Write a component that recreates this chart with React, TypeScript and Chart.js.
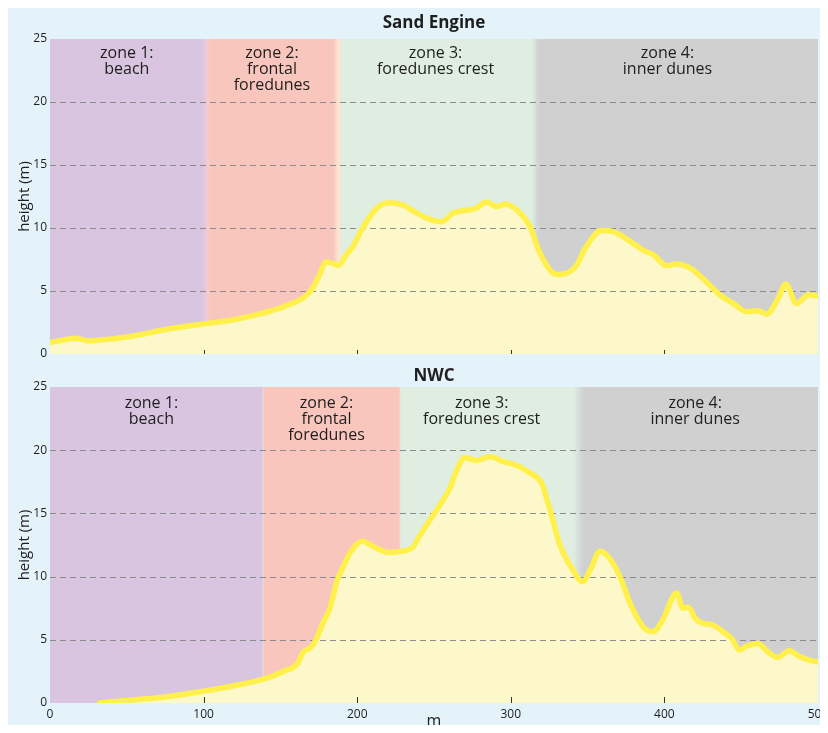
import React, { useEffect, useRef } from "react";
import { Chart, registerables } from "chart.js";

Chart.register(...registerables);

const FONT = "'Open Sans', 'DejaVu Sans', sans-serif";
const INK = "#1e1e1e";

// Cross-shore distance (m) and surface height (m) of the Sand Engine transect
const sandEngineX = [
  0, 17, 24, 54, 76, 102, 119, 137, 152, 169, 174, 180, 188, 193, 197, 204, 213, 221, 229, 238,
  247, 255, 262.5, 271, 278, 284, 291, 296, 305, 312.5, 319, 330, 342, 349, 359, 367, 378, 386, 393,
  401.5, 408, 417, 425, 436, 445, 453.6, 461, 466.6, 474, 479, 486, 494, 500,
];
const sandEngineHeight = [
  0.9, 1.25, 1.06, 1.43, 1.96, 2.43, 2.7, 3.2, 3.75, 4.9, 5.9, 7.3, 7.05, 7.9, 8.5, 10.1, 11.6, 12.0,
  11.85, 11.25, 10.7, 10.5, 11.2, 11.4, 11.6, 12.06, 11.7, 11.9, 11.3, 10.1, 8.0, 6.3, 6.9, 8.5, 9.8,
  9.7, 8.9, 8.25, 7.86, 7.0, 7.14, 6.8, 6.0, 4.7, 4.0, 3.36, 3.44, 3.17, 4.4, 5.55, 4.0, 4.7, 4.6,
];

// Cross-shore distance (m) and surface height (m) of the NWC transect
const nwcX = [
  32.5, 54, 76, 97.7, 119, 139, 152, 161, 165, 169, 172.5, 178, 182, 187, 191, 196, 203, 211.6, 221,
  228, 236, 241, 254, 260, 265, 270, 278, 286.5, 295, 302.7, 312.5, 320, 325, 332, 340, 346.8, 352,
  358, 364.6, 371, 378.7, 387, 393, 399, 408, 412, 415.5, 420, 425, 430.8, 438, 443.8, 448.8, 453.6,
  461, 464.4, 468.8, 474, 481.3, 488, 498, 500,
];
const nwcHeight = [
  0, 0.24, 0.5, 0.9, 1.35, 1.88, 2.5, 3.1, 4.06, 4.3, 4.85, 6.4, 7.4, 9.7, 10.8, 12.0, 12.8, 12.3,
  11.9, 12.0, 12.3, 13.3, 15.7, 16.9, 18.5, 19.4, 19.2, 19.5, 19.1, 18.85, 18.2, 17.4, 15.5, 12.5,
  10.6, 9.6, 10.6, 12.0, 11.4, 10.0, 7.6, 5.9, 5.65, 6.6, 8.7, 7.5, 7.6, 6.7, 6.3, 6.2, 5.65, 5.1,
  4.2, 4.5, 4.7, 4.4, 3.9, 3.6, 4.14, 3.67, 3.27, 3.25,
];

const heightRange = [0, 25];
const heightStep = 5;
const distanceRange = [0, 500];
const distanceStep = 100;
const innerTickValues = [100, 200, 300, 400];

// Morphological zones
const zoneColors = ["#d9c5df", "#f8c6bd", "#dfeee1", "#d0d0d0"];
const zoneHeads = ["zone 1:", "zone 2:", "zone 3:", "zone 4:"];
const zoneNames = [["beach"], ["frontal", "foredunes"], ["foredunes crest"], ["inner dunes"]];

const sandZoneEdges = [102, 187.5, 315.8];
const sandZoneBlend = [4.5, 6.5, 4];
const sandZoneMix = ["#f3cad6", "#fde3cf", "#d6e2dc"];
const sandLabelX = [50, 144.5, 251, 402];

const nwcZoneEdges = [138.7, 227.9, 343.8];
const nwcZoneBlend = [0.8, 1.2, 6.5];
const nwcZoneMix = ["#f3c6cf", "#ecdccd", "#d6e2dc"];
const nwcLabelX = [66, 180, 281, 420];

const CANVAS_W = 836;

type PanelProps = {
  title: string;
  xs: number[];
  ys: number[];
  edges: number[];
  blend: number[];
  mix: string[];
  labelX: number[];
  top: number;
  height: number;
  padTop: number;
  titleGap: number;
  labelTop: number;
  axisHeight: number;
  tickLen: number;
  showDistance: boolean;
};

function makePanelPlugin(p: PanelProps) {
  return {
    id: "profilePanel",
    beforeDraw(chart: any) {
      const { ctx, chartArea: a } = chart;
      const x = chart.scales.x;
      ctx.save();
      // zone bands
      for (let i = 0; i < zoneColors.length; i++) {
        const l = i === 0 ? a.left : x.getPixelForValue(p.edges[i - 1] + p.blend[i - 1] / 2);
        const r =
          i === zoneColors.length - 1 ? a.right : x.getPixelForValue(p.edges[i] - p.blend[i] / 2);
        ctx.fillStyle = zoneColors[i];
        ctx.fillRect(l, a.top, r - l, a.bottom - a.top);
      }
      // soft transitions between zones
      for (let i = 0; i < p.edges.length; i++) {
        const l = x.getPixelForValue(p.edges[i] - p.blend[i] / 2);
        const r = x.getPixelForValue(p.edges[i] + p.blend[i] / 2);
        const g = ctx.createLinearGradient(l, 0, r, 0);
        g.addColorStop(0, zoneColors[i]);
        g.addColorStop(0.5, p.mix[i]);
        g.addColorStop(1, zoneColors[i + 1]);
        ctx.fillStyle = g;
        ctx.fillRect(l, a.top, r - l, a.bottom - a.top);
      }
      // zone captions
      ctx.fillStyle = INK;
      ctx.font = `16px ${FONT}`;
      ctx.textAlign = "center";
      ctx.textBaseline = "middle";
      for (let i = 0; i < zoneHeads.length; i++) {
        const cx = x.getPixelForValue(p.labelX[i]);
        const lines = [zoneHeads[i], ...zoneNames[i]];
        lines.forEach((t, j) => ctx.fillText(t, cx, a.top + p.labelTop + j * 16));
      }
      // panel title
      ctx.font = `bold 17px ${FONT}`;
      ctx.fillText(p.title, (a.left + a.right) / 2, a.top - p.titleGap);
      ctx.restore();
    },
    afterDatasetDraw(chart: any, args: any) {
      if (args.index !== 1) return;
      // dashed height grid above the filled profile, below the crest line
      const { ctx, chartArea: a } = chart;
      const y = chart.scales.y;
      ctx.save();
      ctx.strokeStyle = "#8c8c8c";
      ctx.lineWidth = 1.2;
      ctx.setLineDash([6, 4]);
      y.ticks.forEach((t: any) => {
        if (t.value <= heightRange[0] || t.value >= heightRange[1]) return;
        const py = Math.round(y.getPixelForValue(t.value)) + 0.5;
        ctx.beginPath();
        ctx.moveTo(a.left, py);
        ctx.lineTo(a.right, py);
        ctx.stroke();
      });
      ctx.restore();
    },
    afterDraw(chart: any) {
      const { ctx, chartArea: a } = chart;
      const x = chart.scales.x;
      ctx.save();
      ctx.strokeStyle = "#333";
      ctx.lineWidth = 1;
      innerTickValues.forEach((v) => {
        const px = Math.round(x.getPixelForValue(v)) + 0.5;
        ctx.beginPath();
        ctx.moveTo(px, a.bottom);
        ctx.lineTo(px, a.bottom - p.tickLen);
        ctx.stroke();
      });
      ctx.restore();
    },
  };
}

function ProfilePanel(p: PanelProps) {
  const ref = useRef<HTMLCanvasElement | null>(null);

  useEffect(() => {
    if (!ref.current) return;
    Chart.defaults.font.family = FONT;
    const points = p.xs.map((x, i) => ({ x, y: p.ys[i] }));
    const chart = new Chart(ref.current, {
      type: "line",
      data: {
        datasets: [
          {
            data: points,
            borderColor: "#fff04c",
            borderWidth: 5.5,
            borderCapStyle: "round",
            borderJoinStyle: "round",
            fill: false,
            pointRadius: 0,
            cubicInterpolationMode: "monotone",
            order: 1,
          },
          {
            data: points,
            borderWidth: 0,
            borderColor: "rgba(0,0,0,0)",
            backgroundColor: "#fdf8c9",
            fill: "origin",
            pointRadius: 0,
            cubicInterpolationMode: "monotone",
            order: 2,
          },
        ],
      },
      options: {
        animation: false,
        responsive: false,
        devicePixelRatio: 1,
        layout: { padding: { top: p.padTop, right: CANVAS_W - 810, left: 0, bottom: 0 } },
        plugins: {
          legend: { display: false },
          tooltip: { enabled: false },
          title: { display: false },
        },
        scales: {
          x: {
            type: "linear",
            min: distanceRange[0],
            max: distanceRange[1],
            grid: { display: false, drawTicks: false },
            border: { display: false },
            ticks: {
              display: p.showDistance,
              stepSize: distanceStep,
              padding: 4,
              color: INK,
              font: { size: 12 },
              maxRotation: 0,
            },
            title: {
              display: p.showDistance,
              text: "m",
              color: INK,
              font: { size: 16 },
              padding: { top: 0, bottom: 2 },
            },
            afterFit: (s: any) => {
              s.height = p.axisHeight;
              s.paddingLeft = 0;
              s.paddingRight = 0;
            },
          },
          y: {
            min: heightRange[0],
            max: heightRange[1],
            grid: { display: false, drawTicks: false },
            border: { display: false },
            ticks: { stepSize: heightStep, padding: 3, color: INK, font: { size: 12 } },
            title: {
              display: true,
              text: "height (m)",
              color: INK,
              font: { size: 15 },
              padding: { top: 8, bottom: 0 },
            },
            afterFit: (s: any) => {
              s.width = 42;
            },
          },
        },
      } as any,
      plugins: [makePanelPlugin(p)],
    });
    return () => chart.destroy();
  }, []);

  return (
    <canvas
      ref={ref}
      width={CANVAS_W}
      height={p.height}
      style={{ display: "block", position: "absolute", left: 8, top: p.top }}
    />
  );
}

export default function App() {
  return (
    <div
      style={{
        position: "relative",
        margin: -8,
        width: 828,
        height: 733,
        overflow: "hidden",
        background: "#ffffff",
        fontFamily: FONT,
      }}
    >
      <div
        style={{
          position: "absolute",
          left: 8,
          top: 8,
          width: 812,
          height: 725,
          background: "#e4f3f9",
        }}
      />
      <ProfilePanel
        title="Sand Engine"
        xs={sandEngineX}
        ys={sandEngineHeight}
        edges={sandZoneEdges}
        blend={sandZoneBlend}
        mix={sandZoneMix}
        labelX={sandLabelX}
        top={8}
        height={360}
        padTop={31}
        titleGap={16}
        labelTop={14}
        axisHeight={14}
        tickLen={4}
        showDistance={false}
      />
      <ProfilePanel
        title="NWC"
        xs={nwcX}
        ys={nwcHeight}
        edges={nwcZoneEdges}
        blend={nwcZoneBlend}
        mix={nwcZoneMix}
        labelX={nwcLabelX}
        top={368}
        height={365}
        padTop={19}
        titleGap={10.5}
        labelTop={16}
        axisHeight={30}
        tickLen={6}
        showDistance={true}
      />
    </div>
  );
}
